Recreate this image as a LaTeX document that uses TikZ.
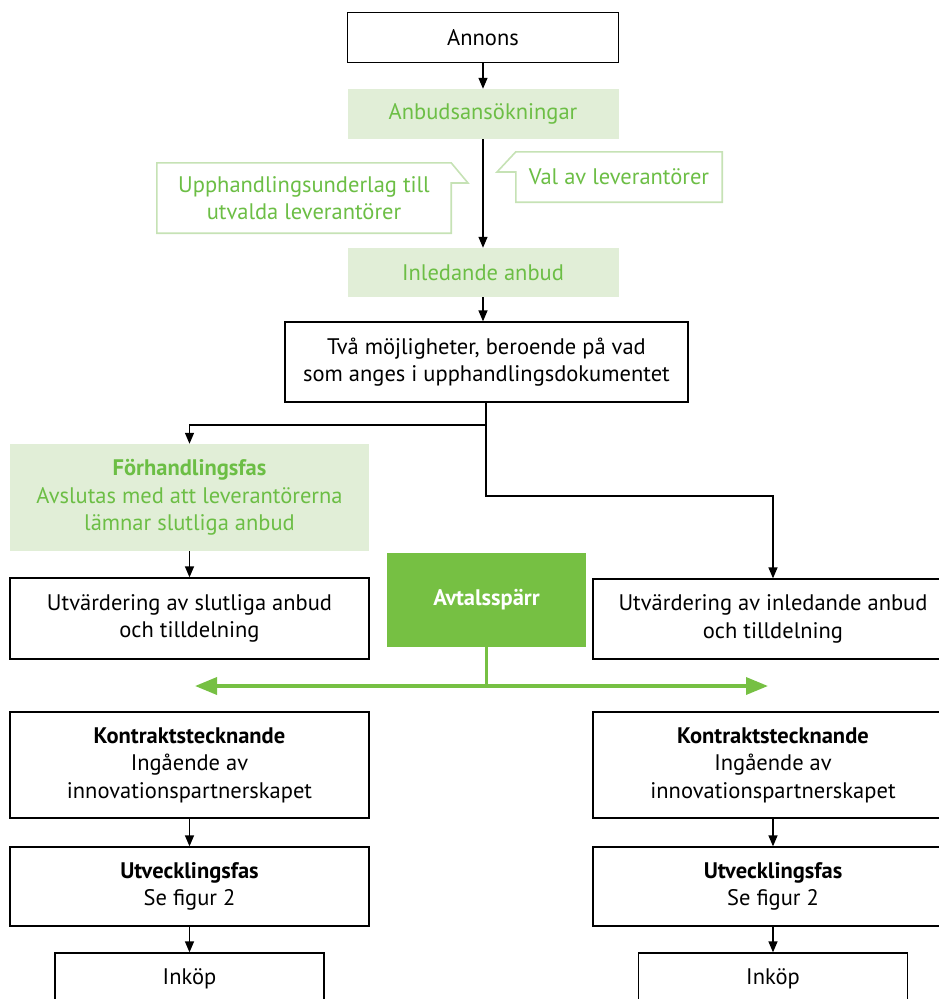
\documentclass[tikz,border=0pt]{standalone}
\usepackage{fontspec}
\setmainfont{PT Sans}
\usetikzlibrary{arrows.meta}
\definecolor{gtext}{HTML}{6CBE45}
\definecolor{gfill}{HTML}{E1EED7}
\definecolor{gline}{HTML}{C6E2B5}
\definecolor{gdark}{HTML}{76C043}
\tikzset{
  every node/.style={font=\fontsize{22.5}{27.5}\selectfont, inner sep=0pt, align=center},
  wbox/.style={draw=black, line width=1.3pt, fill=white},
  gbox/.style={fill=gfill, text=gtext},
  abox/.style={fill=gdark, text=white, font=\fontsize{22.5}{27.5}\selectfont\bfseries},
  callout/.style={draw=gline, line width=1.6pt, fill=white},
  arr/.style={-{Triangle[length=11pt,width=9pt]}, line width=1.3pt},
  garr/.style={{Triangle[length=22pt,width=17pt]}-{Triangle[length=22pt,width=17pt]}, draw=gdark, line width=3.5pt},
}
\begin{document}
\begin{tikzpicture}[x=1pt,y=-1pt]
\useasboundingbox (0,0) rectangle (939,999);
\clip (0,0) rectangle (939,999);

% top column
\node[wbox, minimum width=271pt, minimum height=50pt] (annons) at (483,37.5) {Annons};
\node[gbox, minimum width=271pt, minimum height=50pt] (anbud) at (483,114) {Anbudsansökningar};
\node[gbox, minimum width=271pt, minimum height=49pt] (inled) at (483,272.5) {Inledande anbud};
\node[wbox, minimum width=403pt, minimum height=80pt] (tva) at (486.5,362) {Två möjligheter, beroende på vad\\som anges i upphandlingsdokumentet};

% callouts
\node[minimum width=294pt, minimum height=70pt] (cl) at (304,198) {};
\node[minimum width=206pt, minimum height=50pt] (cr) at (619,177) {};
\coordinate (cltip) at (468,183);
\coordinate (crtip) at (497,172);
\draw[callout] (cl.north west) -- (cl.north east) -- (cltip) -- (cl.east |- cltip) -- (cl.south east) -- (cl.south west) -- cycle;
\draw[callout] (cr.north west) -- (cr.north east) -- (cr.south east) -- (cr.south west) -- (cr.west |- crtip) -- (crtip) -- cycle;
\node[text=gtext] (cltext) at (cl.center) {Upphandlingsunderlag till\\utvalda leverantörer};
\node[text=gtext] (crtext) at (cr.center) {Val av leverantörer};

% left column
\node[gbox, minimum width=359pt, minimum height=107pt] (forh) at (189.5,497.5) {\textbf{Förhandlingsfas}\\Avslutas med att leverantörerna\\lämnar slutliga anbud};
\node[wbox, minimum width=359pt, minimum height=81pt] (utvs) at (189.5,618.5) {Utvärdering av slutliga anbud\\och tilldelning};
\node[wbox, minimum width=359pt, minimum height=106pt] (kl) at (189.5,765) {\textbf{Kontraktstecknande}\\Ingående av\\innovationspartnerskapet};
\node[wbox, minimum width=359pt, minimum height=79pt] (ul) at (189.5,886.5) {\textbf{Utvecklingsfas}\\Se figur 2};
\node[wbox, minimum width=269pt, minimum height=52pt] (il) at (189.5,979) {Inköp};

% middle
\node[abox, minimum width=199pt, minimum height=94pt] (avtal) at (486.5,600) {Avtalsspärr};

% right column
\node[wbox, minimum width=360pt, minimum height=80pt] (utvi) at (773,619) {Utvärdering av inledande anbud\\och tilldelning};
\node[wbox, minimum width=360pt, minimum height=106pt] (kr) at (773,765) {\textbf{Kontraktstecknande}\\Ingående av\\innovationspartnerskapet};
\node[wbox, minimum width=360pt, minimum height=79pt] (ur) at (773,886.5) {\textbf{Utvecklingsfas}\\Se figur 2};
\node[wbox, minimum width=269pt, minimum height=52pt] (ir) at (773,979) {Inköp};

% connectors
\draw[arr] (annons.south) -- (anbud.north);
\draw[arr] (anbud.south) -- (inled.north);
\draw[arr] (inled.south) -- (inled.south |- tva.north);
\coordinate (j1) at (486,425);
\coordinate (j2) at (486,496);
\draw[arr] (tva.south -| j1) -- (j1) -| (forh.north);
\draw[arr] (j1) -- (j2) -| (utvi.north);
\draw[arr] (forh.south) -- (utvs.north);
\draw[arr] (kl.south) -- (ul.north);
\draw[arr] (ul.south) -- (il.north);
\draw[arr] (kr.south) -- (ur.north);
\draw[arr] (ur.south) -- (ir.north);

\coordinate (gl) at (195,686);
\coordinate (gr) at (768,686);
\draw[draw=gdark, line width=3.5pt] (avtal.south) -- (avtal.south |- gl);
\draw[garr] (gl) -- (gr);
\end{tikzpicture}
\end{document}
